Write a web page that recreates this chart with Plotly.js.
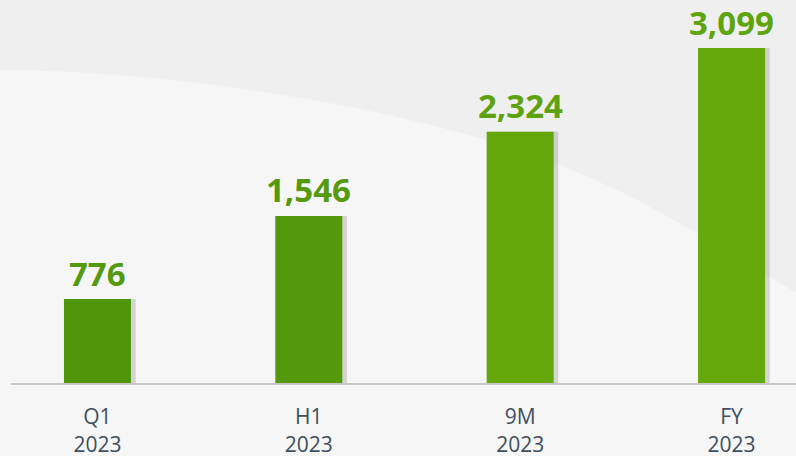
<!DOCTYPE html>
<html>
<head>
<meta charset="utf-8">
<script src="https://cdn.plot.ly/plotly-3.0.1.min.js"></script>
<style>html,body{margin:0;padding:0;background:#efefef;}#chart{width:796px;height:456px;}</style>
</head>
<body>
<div id="chart"></div>
<script>
const categories = ['Q1<br>2023', 'H1<br>2023', '9M<br>2023', 'FY<br>2023'];
const values = [776, 1546, 2324, 3099];
const valueLabels = ['776', '1,546', '2,324', '3,099'];
const barColors = ['#4f960a', '#529a0b', '#63a70b', '#65a80c'];
const labelColors = ['#55990f', '#55990f', '#5ea30f', '#5ea40f'];

const W = 796, H = 456, L = 11, B = 73;
const pw = W - L, ph = H - B;
function px(x) { return (x - L) / pw; }
function py(y) { return (ph - y) / ph; }

let path = 'M ' + px(-5) + ' ' + py(70);
path += ' C ' + px(180) + ' ' + py(70) + ', ' + px(420) + ' ' + py(110) + ', ' + px(560) + ' ' + py(165);
path += ' C ' + px(660) + ' ' + py(205) + ', ' + px(740) + ' ' + py(260) + ', ' + px(800) + ' ' + py(295);
path += ' L ' + px(800) + ' ' + py(460) + ' L ' + px(-5) + ' ' + py(460) + ' Z';

const shadow = {
  type: 'bar', x: categories, y: values,
  width: 0.317, offset: -0.1585 + 0.022,
  marker: {color: 'rgba(90,90,90,0.22)', line: {width: 0}},
  hoverinfo: 'skip', showlegend: false
};
const bars = {
  type: 'bar', x: categories, y: values,
  width: 0.317, offset: -0.1585,
  marker: {color: barColors, line: {width: 0}},
  showlegend: false
};

const annotations = categories.map((c, i) => ({
  x: c, y: values[i], xref: 'x', yref: 'y',
  text: '<b>' + valueLabels[i] + '</b>',
  showarrow: false, yanchor: 'middle', xanchor: 'center', yshift: 26, borderpad: 0,
  font: {family: 'Open Sans', size: 33, color: labelColors[i]}
}));

const layout = {
  width: W, height: H,
  margin: {l: L, r: 0, t: 0, b: B},
  paper_bgcolor: '#efefef', plot_bgcolor: 'rgba(0,0,0,0)',
  barmode: 'overlay',
  xaxis: {
    type: 'category', range: [-0.409, 3.305],
    showline: true, linecolor: '#c6c6c6', linewidth: 2,
    showgrid: false, zeroline: false, ticks: '',
    tickfont: {family: 'Open Sans', size: 21, color: '#3f4f5f'},
    ticklabelstandoff: 14
  },
  yaxis: {
    range: [0, 3099 * 383 / 335], visible: false, showgrid: false, zeroline: false
  },
  shapes: [{type: 'path', xref: 'paper', yref: 'paper', path: path,
            fillcolor: '#f6f6f6', line: {width: 0}, layer: 'below'}],
  annotations: annotations
};

Plotly.newPlot('chart', [shadow, bars], layout, {displayModeBar: false, staticPlot: true});
</script>
</body>
</html>
